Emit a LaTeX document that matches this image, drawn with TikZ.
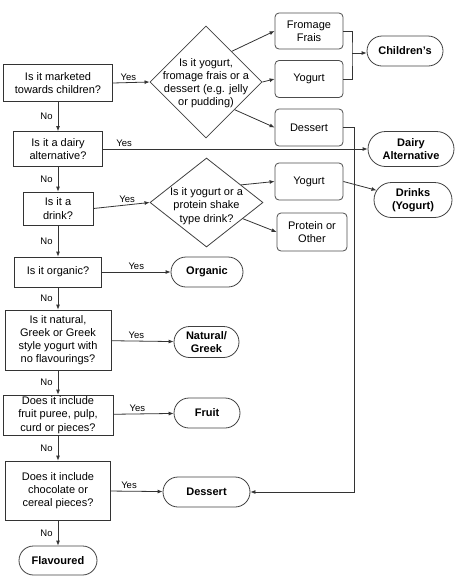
\documentclass[tikz,border=0pt]{standalone}
\usepackage{fontspec}
\setmainfont{Liberation Sans}
\usetikzlibrary{shapes.geometric,shapes.misc,arrows.meta}

\begin{document}
\begin{tikzpicture}[x=1pt,y=-1pt,
    every node/.style={font=\fontsize{11}{13.2}\selectfont, align=center, inner sep=1pt},
    q/.style={draw=black!80, line width=0.8pt, rectangle},
    act/.style={draw=black!70, line width=0.8pt, rectangle, rounded corners=4pt, minimum width=68, minimum height=37},
    term/.style={draw=black!75, line width=0.8pt, rounded rectangle, font=\fontsize{11}{13.2}\selectfont\bfseries},
    dec/.style={draw=black!75, line width=0.8pt, diamond, inner sep=0pt},
    line/.style={draw=black!80, line width=0.8pt},
    arr/.style={line, -{Latex[length=5pt,width=4pt]}},
    lbl/.style={font=\fontsize{9.5}{11}\selectfont, inner sep=2pt}]
  \useasboundingbox (0,0) rectangle (460,579);

  % questions down the left
  \node[q, minimum width=109, minimum height=37] (q1) at (58,83) {Is it marketed\\towards children?};
  \node[q, minimum width=89, minimum height=35] (q2) at (58,149) {Is it a dairy\\alternative?};
  \node[q, minimum width=70, minimum height=33] (q3) at (58,208.5) {Is it a\\drink?};
  \node[q, minimum width=87, minimum height=30] (q4) at (58,272) {Is it organic?};
  \node[q, minimum width=106, minimum height=60] (q5) at (58,340) {Is it natural,\\Greek or Greek\\style yogurt with\\no flavourings?};
  \node[q, minimum width=110, minimum height=40] (q6) at (58,415) {Does it include\\fruit puree, pulp,\\curd or pieces?};
  \node[q, minimum width=105, minimum height=59] (q7) at (58,490.5) {Does it include\\chocolate or\\cereal pieces?};

  % diamonds
  \node[dec, minimum width=112, minimum height=112] (d1) at (206,82) {};
  \node (d1t) at (206,83) {Is it yogurt,\\fromage frais or a\\dessert (e.g. jelly\\or pudding)};
  \node[dec, minimum width=113, minimum height=89] (d2) at (206.5,202.5) {};
  \node (d2t) at (206.5,206) {Is it yogurt or a\\protein shake\\type drink?};

  % boxes
  \node[act, minimum height=36] (frais) at (309,31) {Fromage\\Frais};
  \node[act] (yog1) at (309,79) {Yogurt};
  \node[act] (dess1) at (309,127.5) {Dessert};
  \node[act] (yog2) at (309,181.5) {Yogurt};
  \node[act, minimum width=70, minimum height=38] (prot) at (312,232) {Protein or\\Other};

  % end points
  \node[term, minimum width=78, minimum height=30] (child) at (405,51) {Children's};
  \node[term, minimum width=88, minimum height=35] (dairy) at (411,149) {Dairy\\Alternative};
  \node[term, minimum width=80, minimum height=35] (drinks) at (413,200) {Drinks\\(Yogurt)};
  \node[term, minimum width=74, minimum height=30] (organic) at (207,272) {Organic};
  \node[term, minimum width=67, minimum height=31] (natural) at (206.5,342) {Natural/\\Greek};
  \node[term, minimum width=68, minimum height=30] (fruit) at (207,413) {Fruit};
  \node[term, minimum width=89, minimum height=30] (dess2) at (206.5,492) {Dessert};
  \node[term, minimum width=80, minimum height=29] (flav) at (58,560.5) {Flavoured};

  \coordinate (brk) at (352,53);

  % no
  \draw[arr] (q1) -- node[lbl,left=3pt]{No} (q2);
  \draw[arr] (q2) -- node[lbl,left=3pt]{No} (q3);
  \draw[arr] (q3) -- node[lbl,left=3pt]{No} (q4);
  \draw[arr] (q4) -- node[lbl,left=3pt]{No} (q5);
  \draw[arr] (q5) -- node[lbl,left=3pt]{No} (q6);
  \draw[arr] (q6) -- node[lbl,left=3pt]{No} (q7);
  \draw[arr] (q7) -- node[lbl,left=3pt]{No} (flav);

  % yes
  \draw[arr] (q1.east) -- node[lbl,above,pos=0.42]{Yes} (d1.west);
  \draw[arr] (q2) -- node[lbl,above,pos=0.08]{Yes} (dairy);
  \draw[arr] (q3.east) -- node[lbl,above,pos=0.6]{Yes} (d2.west);
  \draw[arr] (q4) -- node[lbl,above]{Yes} (organic);
  \draw[arr] (q5) -- node[lbl,above,pos=0.4]{Yes} (natural);
  \draw[arr] (q6) -- node[lbl,above,pos=0.4]{Yes} (fruit);
  \draw[arr] (q7) -- node[lbl,above,pos=0.35]{Yes} (dess2);

  % from the diamonds
  \draw[arr] (d1.50) -- (frais.west);
  \draw[arr] (d1.east) -- (yog1.west);
  \draw[arr] (d1.-44) -- (dess1.west);
  \draw[arr] (d2.27) -- (yog2.west);
  \draw[arr] (d2.-24) -- (prot.west);

  % joins
  \draw[line] (frais.east) -| (brk) |- (yog1.east);
  \draw[arr] (brk) -- (brk -| child.west);
  \draw[arr] (dess1.east) -- ++(11,0) |- (dess2.east);
  \draw[arr] (yog2.east) -- (drinks);
\end{tikzpicture}
\end{document}
